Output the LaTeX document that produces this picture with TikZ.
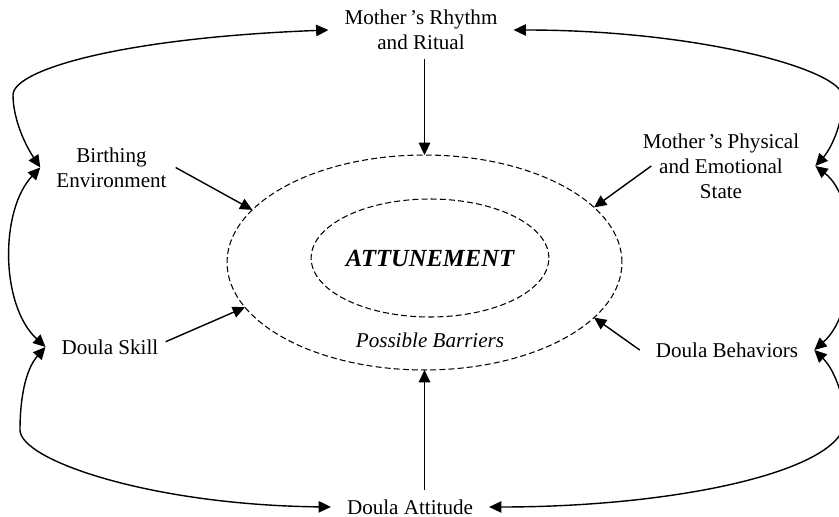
\documentclass[tikz,border=0pt]{standalone}
\usepackage{fontspec}
\setmainfont{Liberation Serif}
\usetikzlibrary{arrows.meta,shapes.geometric}

\begin{document}
\begin{tikzpicture}[x=0.02cm,y=-0.02cm,
  every node/.style={font=\fontsize{12pt}{14.2pt}\selectfont, align=center, inner xsep=9pt, inner ysep=5pt},
  barrier/.style={ellipse, draw, dash pattern=on 3.4pt off 1.8pt, line width=0.6pt, inner sep=0pt, outer sep=0pt},
  feed/.style={line width=0.8pt, -{Triangle[length=7pt,width=6.5pt]}},
  link/.style={line width=0.8pt, {Triangle[length=7pt,width=6.5pt]}-{Triangle[length=7pt,width=6.5pt]}}]
\useasboundingbox (0,0) rectangle (839,517);

\node[barrier, minimum width=7.9cm, minimum height=4.3cm] (outer) at (424.5,262.5) {};
\node[barrier, minimum width=4.28cm, minimum height=2.36cm, font=\fontsize{14pt}{16pt}\selectfont\bfseries\itshape] (inner) at (430,258) {ATTUNEMENT};
\node[font=\fontsize{12pt}{14.2pt}\selectfont\itshape] (barr) at (430,340) {Possible Barriers};

\node (rhythm) at (421,30) {Mother\,’s Rhythm\\and Ritual};
\node (birth) at (111.5,167.5) {Birthing\\Environment};
\node (phys) at (721,166) {Mother\,’s Physical\\and Emotional\\State};
\node (skill) at (110,347) {Doula Skill};
\node (behav) at (727,350) {Doula Behaviors};
\node (attit) at (410,507) {Doula Attitude};

\draw[feed] (rhythm.south -| outer.north) -- (outer.north);
\draw[feed] (attit.north -| outer.south) -- (outer.south);
\draw[feed] ([xshift=-4pt]birth.east) -- (outer.163);
\draw[feed] ([xshift=14pt]phys.west) -- (outer.18);
\draw[feed] ([xshift=-5pt,yshift=3pt]skill.east) -- (outer.194);
\draw[feed] (behav.west) -- (outer.342.6);

\draw[link] (birth.west) .. controls (22,140) and (13,115) .. (13,95) .. controls (13,70) and (120,38) .. (rhythm.west);
\draw[link] (birth.west) .. controls (0,210) and (0,305) .. (skill.west);
\draw[link] (skill.west) .. controls (25,370) and (20,400) .. (20,430) .. controls (20,460) and (150,505) .. (attit.west);
\draw[link] (rhythm.east) .. controls (700,30) and (843,70) .. (843,97) .. controls (843,125) and (830,150) .. (phys.east);
\draw[link] (phys.east) .. controls (860,200) and (860,310) .. (behav.east);
\draw[link] (behav.east) .. controls (835,370) and (845,400) .. (845,420) .. controls (845,470) and (680,507) .. (attit.east);
\end{tikzpicture}
\end{document}
